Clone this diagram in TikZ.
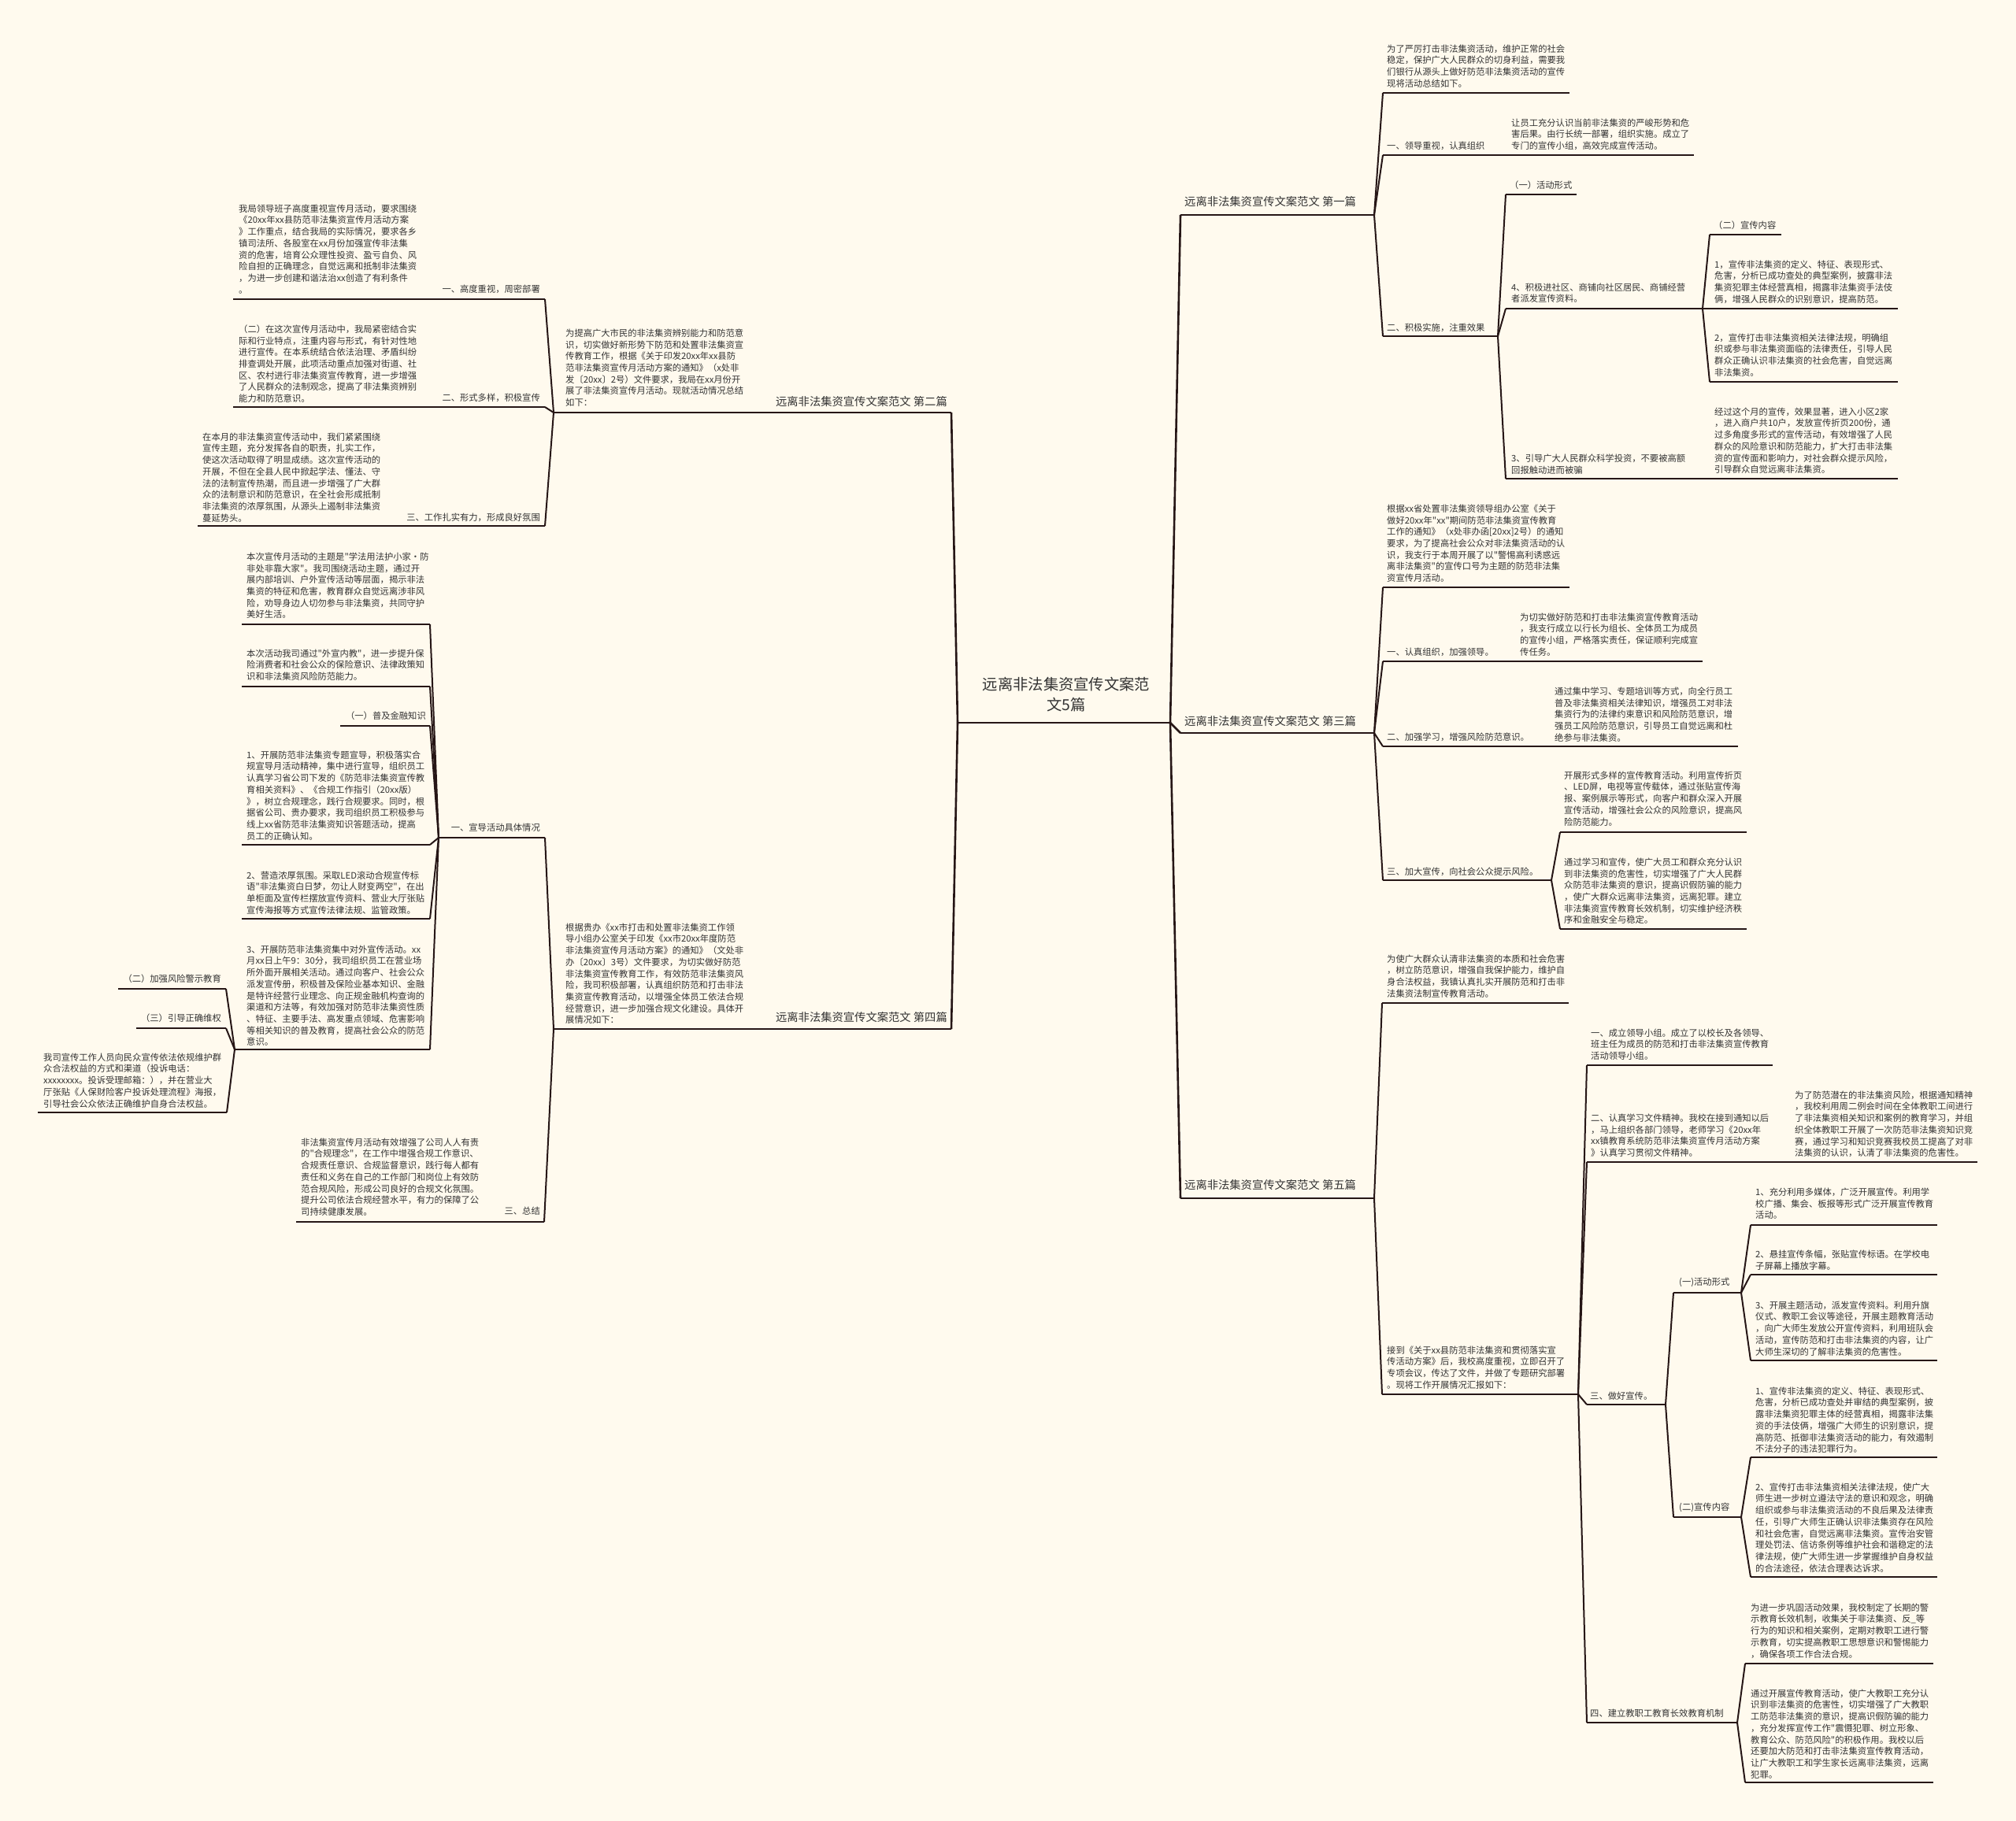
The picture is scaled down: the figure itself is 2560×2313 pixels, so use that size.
\documentclass[tikz,border=0pt]{standalone}
\usepackage{fontspec}
\newfontfamily\cjkf{Noto Sans CJK SC}
\definecolor{bg}{RGB}{255,250,238}
\definecolor{ink}{RGB}{51,51,51}
\definecolor{lc}{RGB}{38,22,22}
\tikzset{
 txt/.style={font=\cjkf\fontsize{11.3}{14.7}\selectfont, align=left, inner sep=0pt, anchor=north west, text=ink},
 labr/.style={font=\cjkf\fontsize{11.3}{14.7}\selectfont, inner sep=0pt, anchor=east, text=ink},
 labl/.style={font=\cjkf\fontsize{11.3}{14.7}\selectfont, inner sep=0pt, anchor=west, text=ink},
 lonel/.style={font=\cjkf\fontsize{14.3}{17}\selectfont, inner sep=0pt, anchor=west, text=ink},
 loner/.style={font=\cjkf\fontsize{14.3}{17}\selectfont, inner sep=0pt, anchor=east, text=ink},
 rootn/.style={font=\cjkf\fontsize{19.3}{26}\selectfont, inner sep=0pt, align=center, text=ink},
 uline/.style={draw=lc, line width=2pt},
 conn/.style={draw=lc, line width=2pt},
 rconn/.style={draw=lc, line width=2.6pt},
}
\newcommand\mmul[4]{\coordinate (#1-l) at (#2,#4);\coordinate (#1-r) at (#3,#4);\draw[uline] (#1-l)--(#1-r);}
\begin{document}
\begin{tikzpicture}[x=1pt,y=-1pt]
\fill[bg] (0,0) rectangle (2560,2313);
\useasboundingbox (0,0) rectangle (2560,2313);

% root
\node[rootn] (root) at (1354,882) {远离非法集资宣传文案范\\文5篇};
\mmul{root}{1216}{1486}{918}

% ===== LEFT: 第二篇 =====
\node[loner] (n2) at (1203,510) {远离非法集资宣传文案范文 第二篇};
\mmul{n2}{968}{1208}{524}
\node[txt] (i2) at (718,417.5) {为提高广大市民的非法集资辨别能力和防范意\\识，切实做好新形势下防范和处置非法集资宣\\传教育工作，根据《关于印发20xx年xx县防\\范非法集资宣传月活动方案的通知》（x处非\\发〔20xx〕2号）文件要求，我局在xx月份开\\展了非法集资宣传月活动。现就活动情况总结\\如下：};
\mmul{i2}{703}{968}{524}
\node[labr] (s1) at (686,367) {一、高度重视，周密部署};
\mmul{s1}{552}{692}{380}
\node[txt] (l1) at (303,259.5) {我局领导班子高度重视宣传月活动，要求围绕\\《20xx年xx县防范非法集资宣传月活动方案\\》工作重点，结合我局的实际情况，要求各乡\\镇司法所、各股室在xx月份加强宣传非法集\\资的危害，培育公众理性投资、盈亏自负、风\\险自担的正确理念，自觉远离和抵制非法集资\\，为进一步创建和谐法治xx创造了有利条件\\。};
\mmul{l1}{296}{552}{380}
\node[labr] (s2) at (686,505) {二、形式多样，积极宣传};
\mmul{s2}{552}{692}{517}
\node[txt] (l2) at (303,412.5) {（二）在这次宣传月活动中，我局紧密结合实\\际和行业特点，注重内容与形式，有针对性地\\进行宣传。在本系统结合依法治理、矛盾纠纷\\排查调处开展，此项活动重点加强对街道、社\\区、农村进行非法集资宣传教育，进一步增强\\了人民群众的法制观念，提高了非法集资辨别\\能力和防范意识。};
\mmul{l2}{296}{552}{517}
\node[labr] (s3) at (686,657) {三、工作扎实有力，形成良好氛围};
\mmul{s3}{508}{692}{668}
\node[txt] (l3) at (257,549.5) {在本月的非法集资宣传活动中，我们紧紧围绕\\宣传主题，充分发挥各自的职责，扎实工作，\\使这次活动取得了明显成绩。这次宣传活动的\\开展，不但在全县人民中掀起学法、懂法、守\\法的法制宣传热潮，而且进一步增强了广大群\\众的法制意识和防范意识，在全社会形成抵制\\非法集资的浓厚氛围，从源头上遏制非法集资\\蔓延势头。};
\mmul{l3}{251}{508}{668}

% ===== LEFT: 第四篇 =====
\node[loner] (n4) at (1203,1292) {远离非法集资宣传文案范文 第四篇};
\mmul{n4}{968}{1208}{1307}
\node[txt] (i4) at (718,1172.5) {根据贵办《xx市打击和处置非法集资工作领\\导小组办公室关于印发《xx市20xx年度防范\\非法集资宣传月活动方案》的通知》（文处非\\办〔20xx〕3号）文件要求，为切实做好防范\\非法集资宣传教育工作，有效防范非法集资风\\险，我司积极部署，认真组织防范和打击非法\\集资宣传教育活动，以增强全体员工依法合规\\经营意识，进一步加强合规文化建设。具体开\\展情况如下：};
\mmul{i4}{703}{968}{1307}
\node[labr] (t1) at (686,1051) {一、宣导活动具体情况};
\mmul{t1}{557}{692}{1064}
\node[txt] (ta) at (313,701.5) {本次宣传月活动的主题是"学法用法护小家·防\\非处非靠大家"。我司围绕活动主题，通过开\\展内部培训、户外宣传活动等层面，揭示非法\\集资的特征和危害，教育群众自觉远离涉非风\\险，劝导身边人切勿参与非法集资，共同守护\\美好生活。};
\mmul{ta}{307}{546}{793}
\node[txt] (tb) at (313,824.5) {本次活动我司通过"外宣内教"，进一步提升保\\险消费者和社会公众的保险意识、法律政策知\\识和非法集资风险防范能力。};
\mmul{tb}{307}{546}{872}
\node[labr] (tc) at (541,909) {（一）普及金融知识};
\mmul{tc}{432}{546}{922}
\node[txt] (td) at (313,953.5) {1、开展防范非法集资专题宣导，积极落实合\\规宣导月活动精神，集中进行宣导，组织员工\\认真学习省公司下发的《防范非法集资宣传教\\育相关资料》、《合规工作指引（20xx版）\\》，树立合规理念，践行合规要求。同时，根\\据省公司、贵办要求，我司组织员工积极参与\\线上xx省防范非法集资知识答题活动，提高\\员工的正确认知。};
\mmul{td}{307}{546}{1073}
\node[txt] (te) at (313,1106.5) {2、营造浓厚氛围。采取LED滚动合规宣传标\\语"非法集资白日梦，勿让人财变两空"，在出\\单柜面及宣传栏摆放宣传资料、营业大厅张贴\\宣传海报等方式宣传法律法规、监管政策。};
\mmul{te}{307}{546}{1167}
\node[txt] (tf) at (313,1200.5) {3、开展防范非法集资集中对外宣传活动。xx\\月xx日上午9：30分，我司组织员工在营业场\\所外面开展相关活动。通过向客户、社会公众\\派发宣传册，积极普及保险业基本知识、金融\\是特许经营行业理念、向正规金融机构查询的\\渠道和方法等，有效加强对防范非法集资性质\\、特征、主要手法、高发重点领域、危害影响\\等相关知识的普及教育，提高社会公众的防范\\意识。};
\mmul{tf}{298}{546}{1333}
\node[labr] (tg) at (281,1243) {（二）加强风险警示教育};
\mmul{tg}{150}{287}{1256}
\node[labr] (th) at (281,1293) {（三）引导正确维权};
\mmul{th}{173}{287}{1306}
\node[txt] (ti) at (55,1337.5) {我司宣传工作人员向民众宣传依法依规维护群\\众合法权益的方式和渠道（投诉电话：\\xxxxxxxx。投诉受理邮箱：），并在营业大\\厅张贴《人保财险客户投诉处理流程》海报，\\引导社会公众依法正确维护自身合法权益。};
\mmul{ti}{48}{288}{1413}
\node[labr] (t3) at (686,1538) {三、总结};
\mmul{t3}{628}{691}{1552}
\node[txt] (t3a) at (382,1445.5) {非法集资宣传月活动有效增强了公司人人有责\\的"合规理念"，在工作中增强合规工作意识、\\合规责任意识、合规监督意识，践行每人都有\\责任和义务在自己的工作部门和岗位上有效防\\范合规风险，形成公司良好的合规文化氛围。\\提升公司依法合规经营水平，有力的保障了公\\司持续健康发展。};
\mmul{t3a}{376}{628}{1552}

% ===== RIGHT: 第一篇 =====
\node[lonel] (n1) at (1504,256) {远离非法集资宣传文案范文 第一篇};
\mmul{n1}{1499}{1745}{273}
\node[txt] (r1a) at (1761,56.5) {为了严厉打击非法集资活动，维护正常的社会\\稳定，保护广大人民群众的切身利益，需要我\\们银行从源头上做好防范非法集资活动的宣传\\现将活动总结如下。};
\mmul{r1a}{1756}{1993}{118}
\node[labl] (r1b) at (1761,185) {一、领导重视，认真组织};
\mmul{r1b}{1756}{1908}{197}
\node[txt] (r1bl) at (1919,150.5) {让员工充分认识当前非法集资的严峻形势和危\\害后果。由行长统一部署，组织实施。成立了\\专门的宣传小组，高效完成宣传活动。};
\mmul{r1bl}{1908}{2151}{197}
\node[labl] (r1c) at (1761,416) {二、积极实施，注重效果};
\mmul{r1c}{1756}{1902}{427}
\node[labl] (r1c1) at (1917,235) {（一）活动形式};
\mmul{r1c1}{1912}{2002}{247}
\node[txt] (r1c2) at (1919,359.5) {4、积极进社区、商铺向社区居民、商铺经营\\者派发宣传资料。};
\mmul{r1c2}{1912}{2162}{392}
\node[labl] (r1d0) at (2176,286) {（二）宣传内容};
\mmul{r1d0}{2171}{2262}{298}
\node[txt] (r1d1) at (2177,330.5) {1，宣传非法集资的定义、特征、表现形式、\\危害，分析已成功查处的典型案例，披露非法\\集资犯罪主体经营真相，揭露非法集资手法伎\\俩，增强人民群众的识别意识，提高防范。};
\mmul{r1d1}{2162}{2410}{392}
\node[txt] (r1d2) at (2177,423.5) {2，宣传打击非法集资相关法律法规，明确组\\织或参与非法集资面临的法律责任，引导人民\\群众正确认识非法集资的社会危害，自觉远离\\非法集资。};
\mmul{r1d2}{2171}{2410}{485}
\node[txt] (r1c3) at (1919,576.5) {3、引导广大人民群众科学投资，不要被高额\\回报触动进而被骗};
\mmul{r1c3}{1912}{2162}{608}
\node[txt] (r1e) at (2177,517.5) {经过这个月的宣传，效果显著，进入小区2家\\，进入商户共10户，发放宣传折页200份，通\\过多角度多形式的宣传活动，有效增强了人民\\群众的风险意识和防范能力，扩大打击非法集\\资的宣传面和影响力，对社会群众提示风险，\\引导群众自觉远离非法集资。};
\mmul{r1e}{2162}{2410}{608}

% ===== RIGHT: 第三篇 =====
\node[lonel] (n3) at (1504,916) {远离非法集资宣传文案范文 第三篇};
\mmul{n3}{1499}{1745}{931}
\node[txt] (r3a) at (1761,640.5) {根据xx省处置非法集资领导组办公室《关于\\做好20xx年"xx"期间防范非法集资宣传教育\\工作的通知》（x处非办函[20xx]2号）的通知\\要求，为了提高社会公众对非法集资活动的认\\识，我支行于本周开展了以"警惕高利诱惑远\\离非法集资"的宣传口号为主题的防范非法集\\资宣传月活动。};
\mmul{r3a}{1756}{1993}{746}
\node[labl] (r3b) at (1761,828) {一、认真组织，加强领导。};
\mmul{r3b}{1756}{1920}{840}
\node[txt] (r3bl) at (1930,778.5) {为切实做好防范和打击非法集资宣传教育活动\\，我支行成立以行长为组长、全体员工为成员\\的宣传小组，严格落实责任，保证顺利完成宣\\传任务。};
\mmul{r3bl}{1920}{2162}{840}
\node[labl] (r3c) at (1761,936) {二、加强学习，增强风险防范意识。};
\mmul{r3c}{1756}{1964}{948}
\node[txt] (r3cl) at (1974,872.5) {通过集中学习、专题培训等方式，向全行员工\\普及非法集资相关法律知识，增强员工对非法\\集资行为的法律约束意识和风险防范意识，增\\强员工风险防范意识，引导员工自觉远离和杜\\绝参与非法集资。};
\mmul{r3cl}{1964}{2207}{948}
\node[labl] (r3d) at (1761,1107) {三、加大宣传，向社会公众提示风险。};
\mmul{r3d}{1756}{1970}{1118}
\node[txt] (r3d1) at (1986,979.5) {开展形式多样的宣传教育活动。利用宣传折页\\、LED屏，电视等宣传载体，通过张贴宣传海\\报、案例展示等形式，向客户和群众深入开展\\宣传活动，增强社会公众的风险意识，提高风\\险防范能力。};
\mmul{r3d1}{1981}{2218}{1057}
\node[txt] (r3d2) at (1986,1089.5) {通过学习和宣传，使广大员工和群众充分认识\\到非法集资的危害性，切实增强了广大人民群\\众防范非法集资的意识，提高识假防骗的能力\\，使广大群众远离非法集资，远离犯罪。建立\\非法集资宣传教育长效机制，切实维护经济秩\\序和金融安全与稳定。};
\mmul{r3d2}{1981}{2218}{1180}

% ===== RIGHT: 第五篇 =====
\node[lonel] (n5) at (1504,1505) {远离非法集资宣传文案范文 第五篇};
\mmul{n5}{1499}{1745}{1522}
\node[txt] (r5a) at (1761,1212.5) {为使广大群众认清非法集资的本质和社会危害\\，树立防范意识，增强自我保护能力，维护自\\身合法权益，我镇认真扎实开展防范和打击非\\法集资法制宣传教育活动。};
\mmul{r5a}{1755}{1992}{1274}
\node[txt] (r5b) at (1761,1709.5) {接到《关于xx县防范非法集资和贯彻落实宣\\传活动方案》后，我校高度重视，立即召开了\\专项会议，传达了文件，并做了专题研究部署\\。现将工作开展情况汇报如下：};
\mmul{r5b}{1755}{2004}{1771}
\node[txt] (q1) at (2020,1306.5) {一、成立领导小组。成立了以校长及各领导、\\班主任为成员的防范和打击非法集资宣传教育\\活动领导小组。};
\mmul{q1}{2015}{2251}{1353}
\node[txt] (q2) at (2020,1414.5) {二、认真学习文件精神。我校在接到通知以后\\，马上组织各部门领导，老师学习《20xx年\\xx镇教育系统防范非法集资宣传月活动方案\\》认真学习贯彻文件精神。};
\mmul{q2}{2015}{2268}{1476}
\node[txt] (q2l) at (2279,1385.5) {为了防范潜在的非法集资风险，根据通知精神\\，我校利用周二例会时间在全体教职工间进行\\了非法集资相关知识和案例的教育学习，并组\\织全体教职工开展了一次防范非法集资知识竞\\赛，通过学习和知识竞赛我校员工提高了对非\\法集资的认识，认清了非法集资的危害性。};
\mmul{q2l}{2268}{2511}{1476}
\node[labl] (q3) at (2019,1773) {三、做好宣传。};
\mmul{q3}{2015}{2115}{1784}
\node[labl] (q3a) at (2132,1629) {(一)活动形式};
\mmul{q3a}{2125}{2211}{1642}
\node[txt] (fa1) at (2229,1508.5) {1、充分利用多媒体，广泛开展宣传。利用学\\校广播、集会、板报等形式广泛开展宣传教育\\活动。};
\mmul{fa1}{2223}{2460}{1556}
\node[txt] (fa2) at (2229,1587.5) {2、悬挂宣传条幅，张贴宣传标语。在学校电\\子屏幕上播放字幕。};
\mmul{fa2}{2223}{2460}{1619}
\node[txt] (fa3) at (2229,1652.5) {3、开展主题活动，派发宣传资料。利用升旗\\仪式、教职工会议等途径，开展主题教育活动\\，向广大师生发放公开宣传资料，利用班队会\\活动，宣传防范和打击非法集资的内容，让广\\大师生深切的了解非法集资的危害性。};
\mmul{fa3}{2223}{2460}{1728}
\node[labl] (q3b) at (2132,1915) {(二)宣传内容};
\mmul{q3b}{2125}{2211}{1927}
\node[txt] (fb1) at (2229,1761.5) {1、宣传非法集资的定义、特征、表现形式、\\危害，分析已成功查处并审结的典型案例，披\\露非法集资犯罪主体的经营真相，揭露非法集\\资的手法伎俩，增强广大师生的识别意识，提\\高防范、抵御非法集资活动的能力，有效遏制\\不法分子的违法犯罪行为。};
\mmul{fb1}{2223}{2460}{1851}
\node[txt] (fb2) at (2229,1883.5) {2、宣传打击非法集资相关法律法规，使广大\\师生进一步树立遵法守法的意识和观念，明确\\组织或参与非法集资活动的不良后果及法律责\\任，引导广大师生正确认识非法集资存在风险\\和社会危害，自觉远离非法集资。宣传治安管\\理处罚法、信访条例等维护社会和谐稳定的法\\律法规，使广大师生进一步掌握维护自身权益\\的合法途径，依法合理表达诉求。};
\mmul{fb2}{2223}{2460}{2003}
\node[labl] (q4) at (2019,2176) {四、建立教职工教育长效教育机制};
\mmul{q4}{2015}{2206}{2188}
\node[txt] (g1) at (2223,2036.5) {为进一步巩固活动效果，我校制定了长期的警\\示教育长效机制，收集关于非法集资、反\_等\\行为的知识和相关案例，定期对教职工进行警\\示教育，切实提高教职工思想意识和警惕能力\\，确保各项工作合法合规。};
\mmul{g1}{2216}{2455}{2113}
\node[txt] (g2) at (2223,2145.5) {通过开展宣传教育活动，使广大教职工充分认\\识到非法集资的危害性，切实增强了广大教职\\工防范非法集资的意识，提高识假防骗的能力\\，充分发挥宣传工作"震慑犯罪、树立形象、\\教育公众、防范风险"的积极作用。我校以后\\还要加大防范和打击非法集资宣传教育活动，\\让广大教职工和学生家长远离非法集资，远离\\犯罪。};
\mmul{g2}{2216}{2455}{2264}

% ===== connectors =====
\draw[rconn] (root-l) -- (n2-r);
\draw[rconn] (root-l) -- (n4-r);
\draw[rconn] (root-r) -- (n1-l);
\draw[rconn] (root-r) -- (n3-l);
\draw[rconn] (root-r) -- (n5-l);
% 第二篇
\draw[conn] (n2-l) -- (i2-r);
\draw[conn] (i2-l) -- (s1-r);
\draw[conn] (i2-l) -- (s2-r);
\draw[conn] (i2-l) -- (s3-r);
\draw[conn] (s1-l) -- (l1-r);
\draw[conn] (s2-l) -- (l2-r);
\draw[conn] (s3-l) -- (l3-r);
% 第四篇
\draw[conn] (n4-l) -- (i4-r);
\draw[conn] (i4-l) -- (t1-r);
\draw[conn] (i4-l) -- (t3-r);
\draw[conn] (t3-l) -- (t3a-r);
\foreach \c in {ta,tb,tc,td,te,tf} {\draw[conn] (t1-l) -- (\c-r);}
\foreach \c in {tg,th,ti} {\draw[conn] (tf-l) -- (\c-r);}
% 第一篇
\foreach \c in {r1a,r1b,r1c} {\draw[conn] (n1-r) -- (\c-l);}
\draw[conn] (r1b-r) -- (r1bl-l);
\foreach \c in {r1c1,r1c2,r1c3} {\draw[conn] (r1c-r) -- (\c-l);}
\foreach \c in {r1d0,r1d1,r1d2} {\draw[conn] (r1c2-r) -- (\c-l);}
\draw[conn] (r1c3-r) -- (r1e-l);
% 第三篇
\foreach \c in {r3a,r3b,r3c,r3d} {\draw[conn] (n3-r) -- (\c-l);}
\draw[conn] (r3b-r) -- (r3bl-l);
\draw[conn] (r3c-r) -- (r3cl-l);
\draw[conn] (r3d-r) -- (r3d1-l);
\draw[conn] (r3d-r) -- (r3d2-l);
% 第五篇
\draw[conn] (n5-r) -- (r5a-l);
\draw[conn] (n5-r) -- (r5b-l);
\foreach \c in {q1,q2,q3,q4} {\draw[conn] (r5b-r) -- (\c-l);}
\draw[conn] (q2-r) -- (q2l-l);
\draw[conn] (q3-r) -- (q3a-l);
\draw[conn] (q3-r) -- (q3b-l);
\foreach \c in {fa1,fa2,fa3} {\draw[conn] (q3a-r) -- (\c-l);}
\foreach \c in {fb1,fb2} {\draw[conn] (q3b-r) -- (\c-l);}
\draw[conn] (q4-r) -- (g1-l);
\draw[conn] (q4-r) -- (g2-l);
\end{tikzpicture}
\end{document}
